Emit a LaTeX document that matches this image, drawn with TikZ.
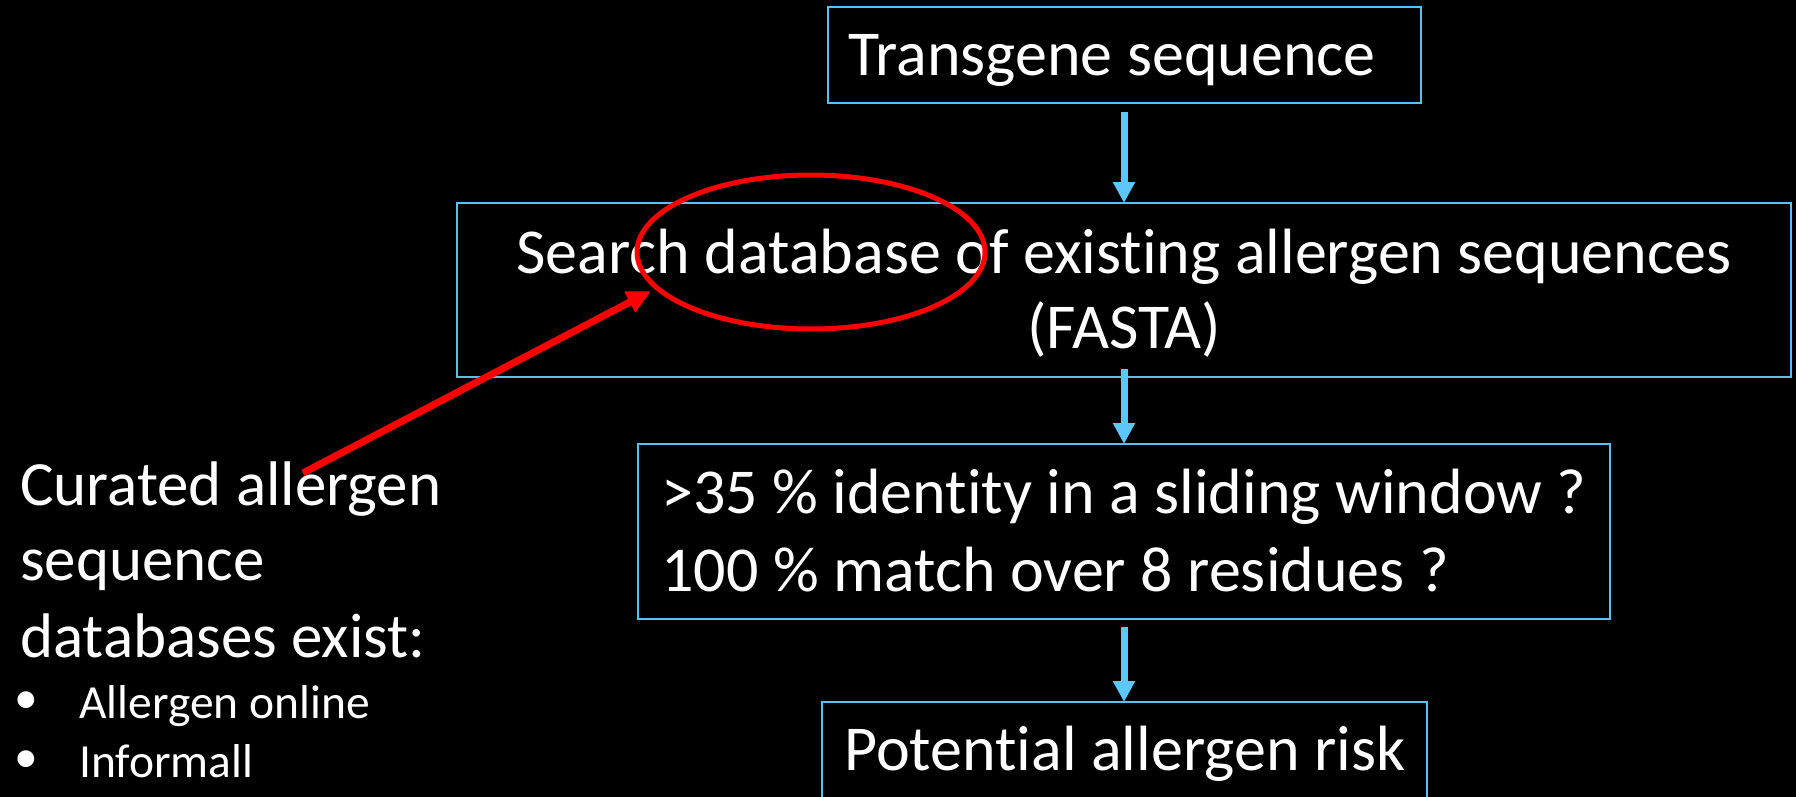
\documentclass[tikz,border=0pt]{standalone}
\usepackage{fontspec}
\setmainfont{Carlito}[Ligatures={NoCommon}]
\usetikzlibrary{arrows.meta,shapes.geometric}
\definecolor{boxblue}{RGB}{91,192,240}
\definecolor{arrblue}{RGB}{94,198,250}
\definecolor{hired}{RGB}{255,0,0}
\begin{document}
\begin{tikzpicture}[x=1pt,y=-1pt,
  flowbox/.style={draw=boxblue, line width=2pt, inner sep=0pt, outer sep=0pt},
  bigtxt/.style={text=white, inner sep=0pt, anchor=base, font=\fontsize{64}{76}\selectfont},
  lefttxt/.style={bigtxt, anchor=base west},
  sidetxt/.style={text=white, inner sep=0pt, anchor=base west, font=\fontsize{63}{76}\selectfont},
  smalltxt/.style={text=white, inner sep=0pt, anchor=base west, font=\fontsize{47.5}{57}\selectfont},
  bulletmark/.style={text=white, inner sep=0pt, anchor=center, font=\fontsize{47.5}{57}\selectfont},
  flowarrow/.style={draw=arrblue, line width=7pt, -{Triangle[length=21pt,width=21pt]}},
  redarrow/.style={draw=hired, line width=7pt, -{Triangle[length=24pt,width=22pt]}},
  redring/.style={draw=hired, line width=5pt, ellipse, minimum width=348pt, minimum height=154pt, inner sep=0pt}
]
\clip (0,0) rectangle (1796,797);
\fill[black] (0,0) rectangle (1796,797);

% boxes
\node[flowbox, minimum width=593pt, minimum height=96pt] (b1) at (1124,55) {};
\node[flowbox, minimum width=1334pt, minimum height=174pt] (b2) at (1124,290) {};
\node[flowbox, minimum width=972pt, minimum height=175pt] (b3) at (1124,531.5) {};
\node[flowbox, minimum width=605pt, minimum height=150pt] (b4) at (1124,777) {};

% box texts
\node[lefttxt] (t1) at (848,76) {Transgene sequence};
\node[bigtxt] (t2a) at (1124,273) {Search database of existing allergen sequences};
\node[bigtxt] (t2b) at (1124,348) {(FASTA)};
\node[lefttxt] (t3a) at (661,513) {>35 \% identity in a sliding window ?};
\node[lefttxt] (t3b) at (661,591) {100 \% match over 8 residues ?};
\node[lefttxt] (t4) at (844,770) {Potential allergen risk};

% flow arrows
\draw[flowarrow, shorten <=9pt] (b1.south) -- (b2.north);
\draw[flowarrow, shorten <=-8pt] (b2.south) -- (b3.north);
\draw[flowarrow, shorten <=8pt] (b3.south) -- (b4.north);

% left text
\node[sidetxt] (l1) at (20,505) {Curated allergen};
\node[sidetxt] (l2) at (20,580) {sequence};
\node[sidetxt] (l3) at (20,657) {databases exist:};
\node[bulletmark] (m1) at (26,703) {\textbullet};
\node[smalltxt] (s1) at (79,718) {Allergen online};
\node[bulletmark] (m2) at (26,762) {\textbullet};
\node[smalltxt] (s2) at (79,777) {Informall};

% red highlight
\node[redring] (ring) at (811,252) {};
\coordinate (rs) at (303,473);
\coordinate (re) at (651,291);
\draw[redarrow] (rs) -- (re);
\end{tikzpicture}
\end{document}
